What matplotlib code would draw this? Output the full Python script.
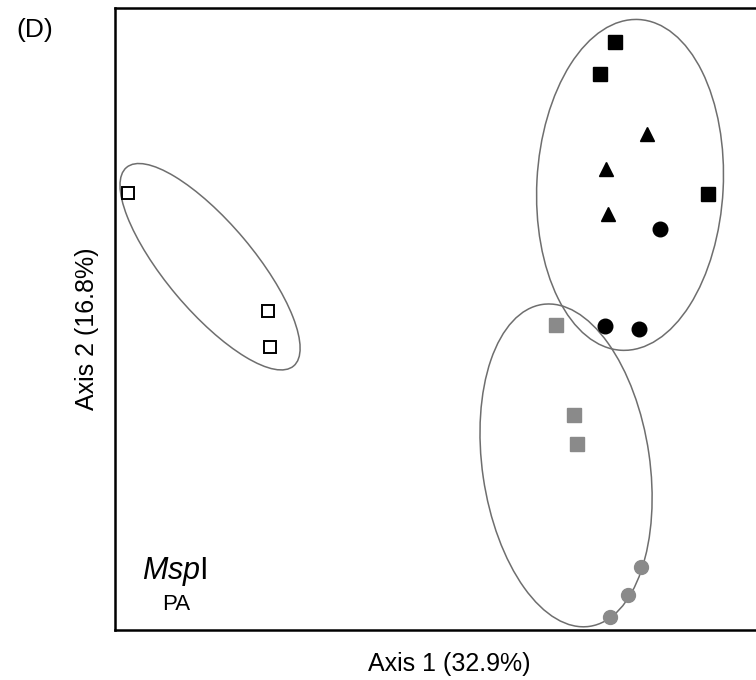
import matplotlib
matplotlib.use('Agg')
import matplotlib.pyplot as plt
from matplotlib.patches import Ellipse

plt.rcParams['font.family'] = ['Liberation Sans', 'DejaVu Sans']
plt.rcParams['mathtext.fontset'] = 'custom'
plt.rcParams['mathtext.it'] = 'Liberation Sans:italic'
plt.rcParams['mathtext.rm'] = 'Liberation Sans'

# PCoA scores (Axis 1, Axis 2)
open_sq_x = [-0.480, -0.267, -0.264]
open_sq_y = [0.218, 0.038, -0.017]

black_sq_x = [0.262, 0.239, 0.404]
black_sq_y = [0.449, 0.399, 0.216]

black_tri_x = [0.311, 0.248, 0.252]
black_tri_y = [0.308, 0.254, 0.186]

black_circ_x = [0.331, 0.247, 0.299]
black_circ_y = [0.163, 0.015, 0.010]

grey_sq_x = [0.172, 0.200, 0.204]
grey_sq_y = [0.016, -0.121, -0.166]

grey_circ_x = [0.302, 0.282, 0.255]
grey_circ_y = [-0.354, -0.397, -0.430]

# group ellipses: (centre x, centre y, width, height, angle)
ellipses = [
    (-0.355, 0.105, 0.396, 0.134, -50),
    (0.285, 0.230, 0.284, 0.506, -3),
    (0.1875, -0.1985, 0.255, 0.497, 8.3),
]

fig = plt.figure(figsize=(7.56, 6.8), dpi=100)
ax = fig.add_axes([0.152, 0.0735, 0.868, 0.9145])

grey = '#8a8a8a'
ms = 10
ax.plot(open_sq_x, open_sq_y, 's', ms=ms - 1, mfc='white', mec='black', mew=1.4, ls='none')
ax.plot(black_sq_x, black_sq_y, 's', ms=ms, color='black', ls='none')
ax.plot(black_tri_x, black_tri_y, '^', ms=ms, color='black', ls='none')
ax.plot(black_circ_x, black_circ_y, 'o', ms=ms + 0.5, color='black', ls='none')
ax.plot(grey_sq_x, grey_sq_y, 's', ms=ms, color=grey, ls='none')
ax.plot(grey_circ_x, grey_circ_y, 'o', ms=ms, color=grey, ls='none')

for cx, cy, w, h, ang in ellipses:
    ax.add_patch(Ellipse((cx, cy), w, h, angle=ang, fill=False,
                         edgecolor='#6e6e6e', lw=1.1))

ax.set_xlim(-0.5, 0.5)
ax.set_ylim(-0.45, 0.5)
ax.set_xticks([])
ax.set_yticks([])
for sp in ax.spines.values():
    sp.set_linewidth(1.8)

ax.set_xlabel('Axis 1 (32.9%)', fontsize=18)
ax.xaxis.set_label_coords(0.51, -0.035)
ax.set_ylabel('Axis 2 (16.8%)', fontsize=18)
ax.yaxis.set_label_coords(-0.024, 0.485)

ax.text(0.091, 0.082, r'$\mathit{Msp}\mathrm{I}$', transform=ax.transAxes,
        ha='center', va='baseline', fontsize=22)
ax.text(0.093, 0.032, 'PA', transform=ax.transAxes, ha='center',
        va='baseline', fontsize=16)
fig.text(0.022, 0.945, '(D)', fontsize=19)

fig.savefig('out.png', dpi=100)
